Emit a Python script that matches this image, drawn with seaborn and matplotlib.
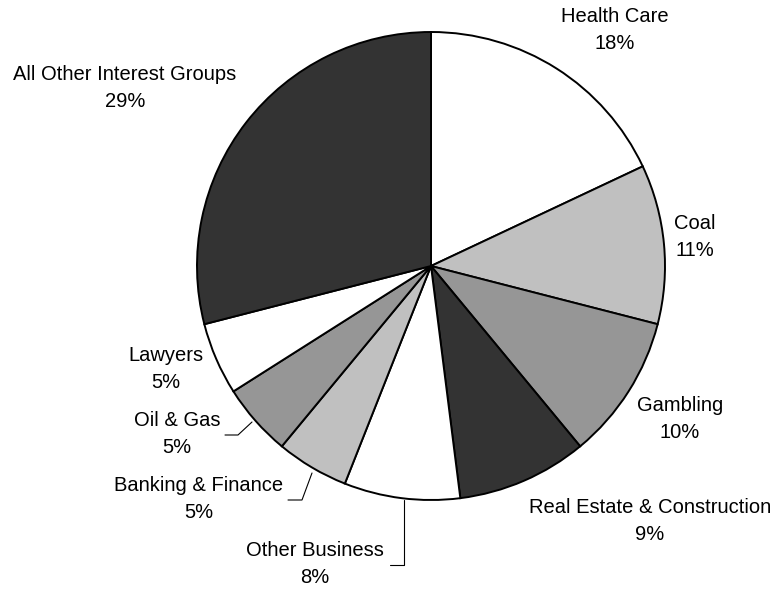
import matplotlib
matplotlib.use("Agg")
import matplotlib.pyplot as plt
import seaborn as sns

# slices, clockwise from 12 o'clock
groups = ["Health Care", "Coal", "Gambling", "Real Estate & Construction",
          "Other Business", "Banking & Finance", "Oil & Gas", "Lawyers",
          "All Other Interest Groups"]
shares = [18, 11, 10, 9, 8, 5, 5, 5, 29]
shades = ["#FFFFFF", "#C0C0C0", "#969696", "#333333", "#FFFFFF",
          "#C0C0C0", "#969696", "#FFFFFF", "#333333"]

sns.set_style("white")
plt.rcParams['font.family'] = ['Liberation Sans', 'DejaVu Sans']

W, H = 779, 592
fig = plt.figure(figsize=(W / 100, H / 100), dpi=100)
ax = fig.add_axes([0, 0, 1, 1])

cx, cy, r = 431, H - 266, 234
ax.pie(shares, colors=shades, startangle=90, counterclock=False,
       center=(cx, cy), radius=r,
       wedgeprops=dict(edgecolor="black", linewidth=1.4))
ax.set_xlim(0, W)
ax.set_ylim(0, H)
ax.set_aspect("equal")
ax.axis("off")

# label block centres (pixel coords, y from top)
label_pos = [(615, 30), (695, 237), (680, 419), (650, 521), (315, 564),
             (199, 499), (177, 434), (166, 369), (125, 88)]
for name, val, (px, py) in zip(groups, shares, label_pos):
    ax.text(px, H - py, f"{name}\n{val}%", ha="center", va="center",
            fontsize=14.5, linespacing=1.58, color="black")

# leader lines for the small slices
leaders = [
    [(225, 435), (238, 435), (252, 422)],
    [(288, 500), (302, 500), (312, 473)],
    [(390, 565), (404, 565), (404, 500)],
]
for pts in leaders:
    xs = [p[0] for p in pts]
    ys = [H - p[1] for p in pts]
    ax.plot(xs, ys, color="black", linewidth=0.8)

fig.savefig("out.png", dpi=100)
